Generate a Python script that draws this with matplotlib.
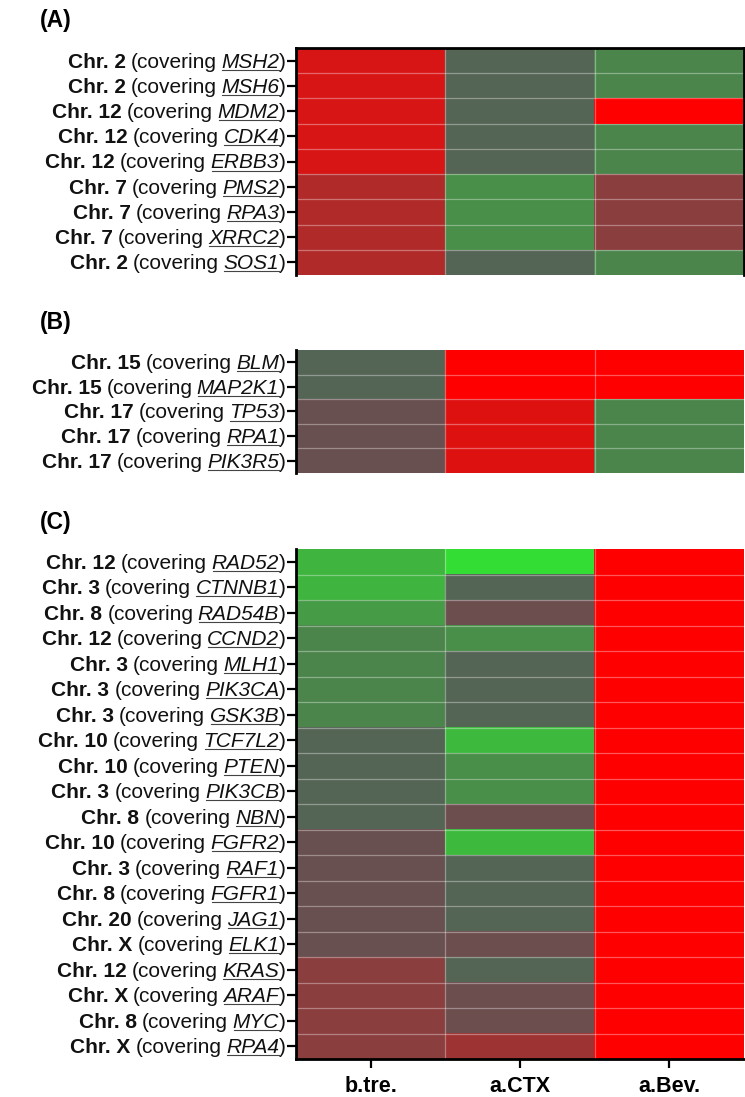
import matplotlib
matplotlib.use("Agg")
import matplotlib.pyplot as plt
import numpy as np
from matplotlib.colors import LinearSegmentedColormap
from matplotlib.lines import Line2D
from matplotlib.transforms import offset_copy, IdentityTransform

plt.rcParams['font.family'] = ['Liberation Sans', 'DejaVu Sans']

# column names
conditions = ['b.tre.', 'a.CTX', 'a.Bev.']

# panel A: chromosome, gene and relative values (+ = red, - = green)
a_chrom = ['2', '2', '12', '12', '12', '7', '7', '7', '2']
a_genes = ['MSH2', 'MSH6', 'MDM2', 'CDK4', 'ERBB3', 'PMS2', 'RPA3', 'XRRC2', 'SOS1']
a_btre = [0.76, 0.76, 0.76, 0.76, 0.76, 0.53, 0.53, 0.53, 0.53]
a_ctx = [-0.09, -0.09, -0.09, -0.09, -0.09, -0.41, -0.41, -0.41, -0.09]
a_bev = [-0.33, -0.33, 1.0, -0.33, -0.33, 0.3, 0.3, 0.3, -0.33]

# panel B
b_chrom = ['15', '15', '17', '17', '17']
b_genes = ['BLM', 'MAP2K1', 'TP53', 'RPA1', 'PIK3R5']
b_btre = [-0.09, -0.09, 0.1, 0.1, 0.1]
b_ctx = [1.0, 1.0, 0.8, 0.8, 0.8]
b_bev = [1.0, 1.0, -0.33, -0.33, -0.33]

# panel C
c_chrom = ['12', '3', '8', '12', '3', '3', '3', '10', '10', '3',
           '8', '10', '3', '8', '20', 'X', '12', 'X', '8', 'X']
c_genes = ['RAD52', 'CTNNB1', 'RAD54B', 'CCND2', 'MLH1', 'PIK3CA', 'GSK3B', 'TCF7L2', 'PTEN', 'PIK3CB',
           'NBN', 'FGFR2', 'RAF1', 'FGFR1', 'JAG1', 'ELK1', 'KRAS', 'ARAF', 'MYC', 'RPA4']
c_btre = [-0.68, -0.68, -0.5, -0.33, -0.33, -0.33, -0.33, -0.09, -0.09, -0.09,
          -0.09, 0.1, 0.1, 0.1, 0.1, 0.1, 0.3, 0.3, 0.3, 0.3]
c_ctx = [-1.0, -0.09, 0.12, -0.41, -0.09, -0.09, -0.09, -0.72, -0.41, -0.41,
         0.12, -0.72, -0.09, -0.09, -0.09, 0.12, -0.09, 0.12, 0.12, 0.42]
c_bev = [1.0] * 20

cmap = LinearSegmentedColormap.from_list(
    'gr', [(0.2, 0.87, 0.2), (0.35, 0.35, 0.35), (1.0, 0.0, 0.0)])

W, H = 745, 1097
fig = plt.figure(figsize=(W / 100, H / 100), dpi=100)
renderer = fig.canvas.get_renderer()

FS = 15
TICK_LEN = 6.5


def draw_label(ax, row, chrom, gene):
    trans = ax.get_yaxis_transform()
    x = -(TICK_LEN * 100 / 72 + 1)
    yoff = -7
    pieces = [(')', 'normal', 'normal', 0),
              (gene, 'normal', 'italic', 0),
              ('(covering', 'normal', 'normal', 4.5),
              ('Chr. ' + chrom, 'bold', 'normal', 5)]
    for s, weight, style, gap in pieces:
        x -= gap
        t = ax.text(0, row, s, transform=offset_copy(trans, x=x, y=yoff, units='dots'),
                    ha='right', va='baseline', fontsize=FS, fontweight=weight,
                    fontstyle=style, color='#111111', clip_on=False)
        bb = t.get_window_extent(renderer)
        if style == 'italic':
            yb = ax.transData.transform((0, row))[1] + yoff - 2
            fig.add_artist(Line2D([bb.x0 + 1, bb.x1], [yb, yb], color='#444444', lw=0.8,
                                  transform=IdentityTransform()))
        x -= bb.width


panels = [
    ('(A)', 48, 275, a_chrom, a_genes, [a_btre, a_ctx, a_bev]),
    ('(B)', 350, 473, b_chrom, b_genes, [b_btre, b_ctx, b_bev]),
    ('(C)', 549, 1059, c_chrom, c_genes, [c_btre, c_ctx, c_bev]),
]

for k, (tag, top, bottom, chroms, genes, cols) in enumerate(panels):
    ax = fig.add_axes([296 / W, 1 - bottom / H, 448 / W, (bottom - top) / H])
    mat = np.column_stack(cols)
    n = len(genes)
    ax.imshow(mat, cmap=cmap, vmin=-1, vmax=1, aspect='auto', interpolation='nearest')
    for i in range(1, n):
        ax.axhline(i - 0.5, color='white', alpha=0.35, lw=0.9)
    for j in range(1, 3):
        ax.axvline(j - 0.5, color='white', alpha=0.35, lw=0.9)

    ax.set_yticks(range(n))
    ax.set_yticklabels([])
    ax.tick_params(axis='y', length=TICK_LEN, width=1.6, direction='out')
    for sp in ax.spines.values():
        sp.set_linewidth(2.0)
    if k == 0:
        ax.spines['bottom'].set_visible(False)
    else:
        ax.spines['top'].set_visible(False)
        ax.spines['right'].set_visible(False)
    if k == 2:
        ax.set_xticks(range(3))
        ax.set_xticklabels(conditions, fontsize=15.5, fontweight='bold')
        ax.tick_params(axis='x', length=TICK_LEN, width=1.6, pad=6)
    else:
        ax.spines['bottom'].set_visible(False)
        ax.set_xticks([])

    for i in range(n):
        draw_label(ax, i, chroms[i], genes[i])

    fig.text(40 / W, 1 - (top - 27) / H, tag, ha='left', va='center',
             fontsize=16.5, fontweight='bold')

fig.savefig('out.png', dpi=100)
